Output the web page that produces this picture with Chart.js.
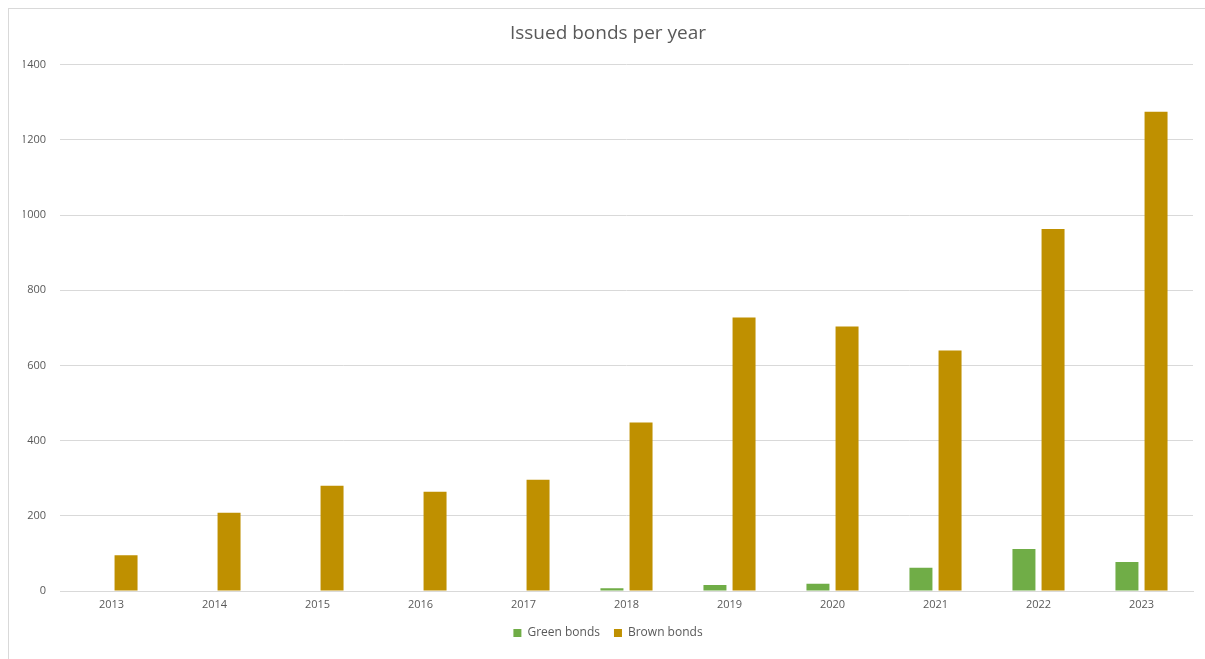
<!DOCTYPE html>
<html>
<head>
<meta charset="utf-8">
<script src="https://cdn.jsdelivr.net/npm/chart.js@4/dist/chart.umd.min.js"></script>
<style>
  html, body { margin: 0; padding: 0; background: #fff; overflow: hidden; }
  #box {
    position: absolute; left: 8px; top: 8px;
    width: 1200px; height: 660px;
    border: 1px solid #d9d9d9; box-sizing: border-box;
  }
</style>
</head>
<body>
<div id="box"><canvas id="myChart"></canvas></div>
<script>
// values
var years = ["2013", "2014", "2015", "2016", "2017", "2018", "2019", "2020", "2021", "2022", "2023"];
var greenBonds = [0, 0, 0, 0, 0, 7, 16, 19, 62, 112, 77];
var brownBonds = [95, 208, 280, 264, 296, 448, 728, 704, 640, 963, 1275];
var yTicks = [0, 200, 400, 600, 800, 1000, 1200, 1400];

var textColor = "#595959";
var gridColor = "#d9d9d9";

Chart.defaults.font.family = "'Open Sans', 'Noto Sans', sans-serif";
Chart.defaults.color = textColor;

const myChart = new Chart(document.getElementById("myChart"), {
	type: "bar",
	data: {
		labels: years,
		datasets: [
			{
				label: "Green bonds",
				data: greenBonds,
				backgroundColor: "#70ad47",
				categoryPercentage: 0.565,
				barPercentage: 0.79,
			},
			{
				label: "Brown bonds",
				data: brownBonds,
				backgroundColor: "#bf9000",
				categoryPercentage: 0.565,
				barPercentage: 0.79,
			},
		],
	},
	options: {
		responsive: true,
		maintainAspectRatio: false,
		animation: false,
		layout: { padding: { left: 14, right: 14, top: 0, bottom: 18 } },
		plugins: {
			title: {
				display: true,
				text: "Issued bonds per year",
				color: textColor,
				font: { size: 19, weight: "normal" },
				padding: { top: 13, bottom: 20 },
			},
			legend: {
				position: "bottom",
				labels: {
					boxWidth: 8,
					boxHeight: 8,
					padding: 14,
					font: { size: 12 },
					color: textColor,
				},
			},
			tooltip: { enabled: false },
		},
		scales: {
			x: {
				grid: { display: false, drawTicks: false },
				border: { color: gridColor },
				ticks: { font: { size: 11 }, color: textColor, padding: 7, maxRotation: 0 },
				afterFit: function (scale) { scale.height = 22; },
			},
			y: {
				min: 0,
				max: 1400,
				afterBuildTicks: function (scale) {
					scale.ticks = yTicks.map(function (v) { return { value: v }; });
				},
				grid: { color: gridColor, drawTicks: false },
				border: { display: false },
				ticks: {
					font: { size: 11 },
					color: textColor,
					padding: 14,
					callback: function (v) { return String(v); },
				},
				afterFit: function (scale) { scale.width = 37; },
			},
		},
	},
});
</script>
</body>
</html>
